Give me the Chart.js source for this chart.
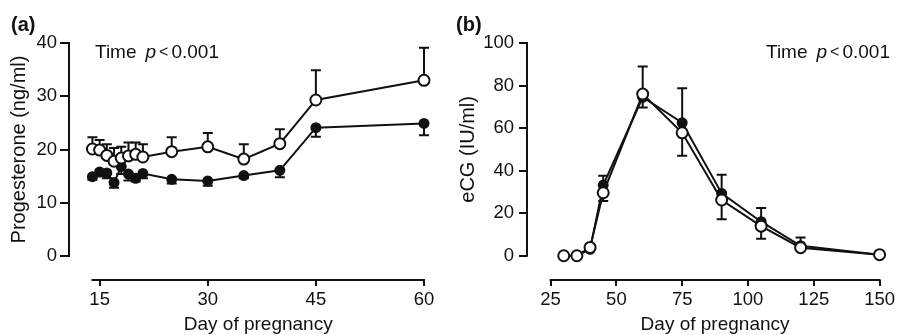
<!DOCTYPE html>
<html>
<head>
<meta charset="utf-8">
<script src="https://cdn.jsdelivr.net/npm/chart.js@4.4.1/dist/chart.umd.min.js"></script>
<style>
  html, body { margin: 0; padding: 0; background: #fff; }
  .panel { position: absolute; top: 0; width: 449px; height: 335px; }
</style>
</head>
<body>
<div class="panel" style="left:0"><canvas id="chartA" width="449" height="335"></canvas></div>
<div class="panel" style="left:449px"><canvas id="chartB" width="449" height="335"></canvas></div>
<script>
// panel (a): progesterone, open = upper SEM, filled = lower SEM
const daysA = [14, 15, 16, 17, 18, 19, 20, 21, 25, 30, 35, 40, 45, 60];
const openA = [20.1, 19.9, 18.9, 17.8, 18.4, 18.8, 19.1, 18.6, 19.6, 20.5, 18.2, 21.1, 29.3, 33.0];
const openAErr = [2.2, 1.9, 2.1, 2.5, 2.1, 2.5, 2.2, 2.4, 2.7, 2.6, 2.8, 2.7, 5.6, 6.1];
const filledA = [14.9, 15.8, 15.6, 13.8, 16.8, 15.4, 14.6, 15.5, 14.4, 14.1, 15.1, 16.1, 24.1, 24.9];
const filledAErr = [0.6, 0.8, 1.0, 1.0, 1.4, 1.2, 0.6, 0.9, 0.8, 0.9, 0.5, 1.3, 1.7, 2.2];
const xTicksA = [15, 30, 45, 60];
const yTicksA = [0, 10, 20, 30, 40];

// panel (b): eCG, filled = upper SEM, open = lower SEM
const daysB = [30, 35, 40, 45, 60, 75, 90, 105, 120, 150];
const openB = [0, 0, 3.9, 29.6, 76.0, 57.8, 26.2, 13.9, 3.8, 0.5];
const openBErr = [0, 0, 0, 3.9, 6.3, 10.8, 9.1, 5.9, 1.0, 0];
const filledB = [0, 0, 3.0, 33.2, 74.5, 62.5, 29.3, 16.0, 4.7, 0.5];
const filledBErr = [0, 0, 0.5, 4.4, 14.4, 16.2, 8.8, 6.4, 3.9, 0];
const xTicksB = [25, 50, 75, 100, 125, 150];
const yTicksB = [0, 20, 40, 60, 80, 100];

const FONT = '"Liberation Sans", Arial, sans-serif';
const INK = '#111';

function pts(xs, ys) {
  return xs.map((x, i) => ({ x: x, y: ys[i] }));
}

// error bars, offset axis lines and the labels
function extras(o) {
  return {
    id: 'extras',
    beforeDatasetsDraw(chart) {
      const ctx = chart.ctx, xs = chart.scales.x, ys = chart.scales.y;
      ctx.save();
      ctx.strokeStyle = INK;
      ctx.lineWidth = 2;
      o.bars.forEach(b => {
        chart.data.datasets[b.ds].data.forEach((p, i) => {
          const e = b.err[i];
          if (!e) return;
          const x = xs.getPixelForValue(p.x);
          const y0 = ys.getPixelForValue(p.y);
          const y1 = ys.getPixelForValue(p.y + b.dir * e);
          ctx.beginPath();
          ctx.moveTo(x, y0); ctx.lineTo(x, y1);
          ctx.moveTo(x - 5, y1); ctx.lineTo(x + 5, y1);
          ctx.stroke();
        });
      });
      ctx.restore();
    },
    afterDraw(chart) {
      const ctx = chart.ctx, xs = chart.scales.x, ys = chart.scales.y;
      const a = chart.chartArea;
      const yb = ys.getPixelForValue(0), yt = ys.getPixelForValue(o.yTop);
      const xl = xs.getPixelForValue(o.xStart), xr = xs.getPixelForValue(xs.max);
      ctx.save();
      ctx.strokeStyle = INK;
      ctx.lineWidth = 2;
      ctx.beginPath();
      ctx.moveTo(a.left, yb + 1); ctx.lineTo(a.left, yt - 1);
      ctx.moveTo(xl - 1, a.bottom); ctx.lineTo(xr + 1, a.bottom);
      ctx.stroke();

      ctx.fillStyle = INK;
      ctx.font = 'bold 20px ' + FONT;
      ctx.fillText(o.letter, o.letterX, 31);

      // Time p < 0.001
      let x = o.noteX;
      ctx.font = '19px ' + FONT;
      ctx.fillText('Time', x, 58);
      x += ctx.measureText('Time').width + 9;
      ctx.font = 'italic 19px ' + FONT;
      ctx.fillText('p', x, 58);
      x += ctx.measureText('p').width + 3;
      ctx.font = '16px ' + FONT;
      ctx.fillText('<', x, 57);
      x += ctx.measureText('<').width + 3;
      ctx.font = '19px ' + FONT;
      ctx.fillText('0.001', x, 58);

      ctx.font = '19px ' + FONT;
      ctx.textAlign = 'center';
      ctx.fillText('Day of pregnancy', (xl + xr) / 2, 330);
      ctx.translate(o.yTitleX, (yb + yt) / 2);
      ctx.rotate(-Math.PI / 2);
      ctx.textBaseline = 'middle';
      ctx.font = '20px ' + FONT;
      ctx.fillText(o.yTitle, 0, 0);
      ctx.restore();
    }
  };
}

function scale(min, max, ticks, tickLen, pad, fit) {
  return {
    type: 'linear', min: min, max: max,
    afterBuildTicks: s => { s.ticks = ticks.map(v => ({ value: v })); },
    afterFit: fit,
    border: { display: false },
    grid: { drawOnChartArea: false, drawTicks: true, tickLength: tickLen, lineWidth: 2, color: INK },
    ticks: { color: INK, font: { family: FONT, size: 18.5 }, padding: pad }
  };
}

function lineSet(data, filled) {
  return {
    data: data,
    showLine: true,
    borderColor: INK,
    borderWidth: 2,
    backgroundColor: filled ? INK : '#fff',
    pointBackgroundColor: filled ? INK : '#fff',
    pointBorderColor: INK,
    pointBorderWidth: 2,
    pointRadius: filled ? 4.5 : 5.5,
    tension: 0,
    clip: false
  };
}

new Chart(document.getElementById('chartA'), {
  type: 'scatter',
  data: {
    datasets: [lineSet(pts(daysA, openA), false), lineSet(pts(daysA, filledA), true)]
  },
  options: {
    responsive: false,
    animation: false,
    layout: { padding: { left: 0, top: 43, right: 25, bottom: 0 } },
    plugins: { legend: { display: false }, tooltip: { enabled: false } },
    scales: {
      x: scale(10.75, 60, xTicksA, 6, 3, s => { s.height = 55; }),
      y: scale(-4.5, 40, yTicksA, 9, 3, s => { s.width = 69; })
    }
  },
  plugins: [extras({
    bars: [{ ds: 0, err: openAErr, dir: 1 }, { ds: 1, err: filledAErr, dir: -1 }],
    xStart: 14, yTop: 40, letter: '(a)', letterX: 11, noteX: 95,
    yTitle: 'Progesterone (ng/ml)', yTitleX: 19
  })]
});

new Chart(document.getElementById('chartB'), {
  type: 'scatter',
  data: {
    datasets: [lineSet(pts(daysB, openB), false), lineSet(pts(daysB, filledB), true)]
  },
  options: {
    responsive: false,
    animation: false,
    layout: { padding: { left: 0, top: 43, right: 17, bottom: 0 } },
    plugins: { legend: { display: false }, tooltip: { enabled: false } },
    scales: {
      x: scale(16.04, 150, xTicksB, 6, 3, s => { s.height = 55; }),
      y: scale(-11.4, 100, yTicksB, 8, 5, s => { s.width = 78; })
    }
  },
  plugins: [extras({
    bars: [{ ds: 1, err: filledBErr, dir: 1 }, { ds: 0, err: openBErr, dir: -1 }],
    xStart: 25, yTop: 100, letter: '(b)', letterX: 7, noteX: 317,
    yTitle: 'eCG (IU/ml)', yTitleX: 19
  })]
});
</script>
</body>
</html>
